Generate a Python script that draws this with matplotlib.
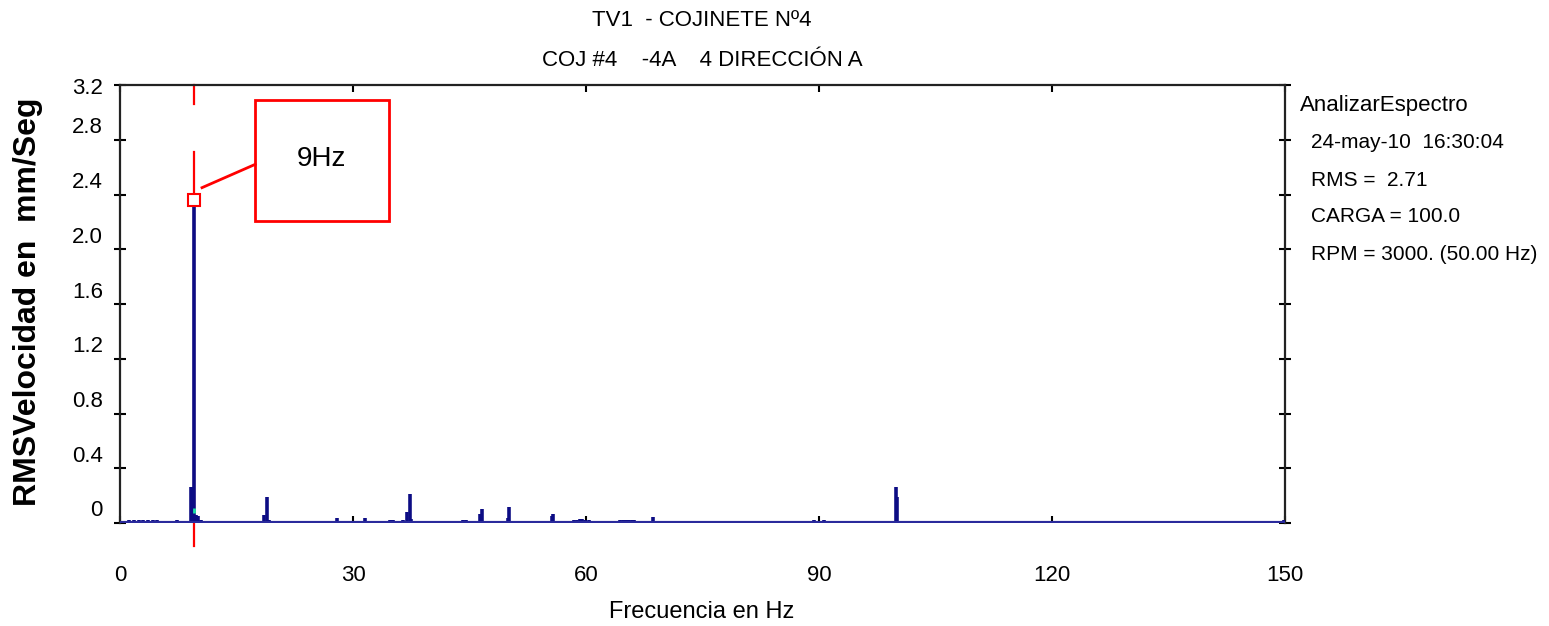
import matplotlib
matplotlib.use('Agg')
from matplotlib import pyplot as plt
from matplotlib.patches import Rectangle
from matplotlib.transforms import blended_transform_factory, ScaledTranslation

SANS = ['Liberation Sans', 'DejaVu Sans']

# spectrum peaks (Hz, mm/s RMS)
freqs = [1.2, 1.5, 1.8, 2.1, 2.4, 2.7, 3.0, 3.3, 3.6, 3.9, 4.2, 4.5, 4.8,
         5.2, 7.3, 9.1, 9.3, 9.5, 9.8, 10.0, 10.4,
         18.6, 18.9, 19.2, 27.9, 31.6, 34.8, 35.0, 35.2, 36.4,
         37.0, 37.3, 37.5, 44.2, 44.5, 46.35, 46.6, 50.0, 50.1,
         55.6, 55.8, 58.5, 58.8, 59.2, 59.5, 59.9, 60.4,
         64.4, 64.7, 65.0, 65.3, 65.6, 65.9, 66.2, 68.6,
         72.3, 72.8, 73.4, 74.2, 74.6, 75.0, 75.4, 75.8,
         89.4, 90.7, 99.9, 100.1, 149.9]
amps = [0.02, 0.015, 0.02, 0.015, 0.02, 0.015, 0.02, 0.015, 0.02, 0.015, 0.02, 0.015, 0.02,
        0.015, 0.02, 0.26, 0.26, 2.36, 0.06, 0.05, 0.02,
        0.06, 0.19, 0.02, 0.035, 0.035, 0.02, 0.02, 0.02, 0.02,
        0.08, 0.21, 0.03, 0.02, 0.02, 0.065, 0.10, 0.04, 0.115,
        0.05, 0.065, 0.02, 0.02, 0.03, 0.03, 0.025, 0.025,
        0.02, 0.02, 0.02, 0.02, 0.02, 0.02, 0.02, 0.045,
        0.015, 0.015, 0.015, 0.015, 0.015, 0.015, 0.015, 0.015,
        0.02, 0.02, 0.26, 0.19, 0.02]

cursor_f = 9.5
cursor_v = 2.36
cursor_label = '9Hz'

xticks = [0, 30, 60, 90, 120, 150]
yticks = [0, 0.4, 0.8, 1.2, 1.6, 2.0, 2.4, 2.8, 3.2]
ytick_labels = ['0', '0.4', '0.8', '1.2', '1.6', '2.0', '2.4', '2.8', '3.2']

title1 = 'TV1  - COJINETE Nº4'
title2 = 'COJ #4    -4A    4 DIRECCIÓN A'
info_head = 'AnalizarEspectro'
info_lines = ['24-may-10  16:30:04', 'RMS =  2.71', 'CARGA = 100.0',
              'RPM = 3000. (50.00 Hz)']

navy = '#0c0c84'
W, H = 1549, 626
fig = plt.figure(figsize=(W / 100, H / 100), dpi=100)
ax = fig.add_axes([120 / W, 1 - 523 / H, (1285 - 120) / W, (523 - 85) / H])

# red cursor line (broken where the original had a gap)
ax.plot([cursor_f, cursor_f], [3.2, 3.06], color='red', lw=1.6, zorder=1, clip_on=False)
ax.plot([cursor_f, cursor_f], [2.71, -0.17], color='red', lw=1.6, zorder=1, clip_on=False)

ax.vlines(freqs, 0, amps, color=navy, lw=2.6, zorder=3)
ax.axhline(0, color='#2a2a9c', lw=3, zorder=4)
ax.vlines([cursor_f], 0.07, 0.11, color='#19e3a6', lw=2, zorder=5)
ax.plot([cursor_f], [cursor_v], marker='s', ms=8, mfc='white', mec='red', mew=1.5, zorder=6)

# callout box
ax.add_patch(Rectangle((17.4, 2.21), 17.2, 0.88, fill=False, ec='red', lw=2, zorder=6))
ax.plot([10.56, 17.4], [2.45, 2.62], color='red', lw=2, zorder=6)
ax.text(26.0, 2.66, cursor_label, ha='center', va='center', fontsize=20, family=SANS)

ax.set_xlim(0, 150)
ax.set_ylim(0, 3.2)
ax.set_xticks(xticks)
ax.set_xticklabels([str(t) for t in xticks], family=SANS, fontsize=16)
ax.set_yticks(yticks)
ax.set_yticklabels([])

for s in ['left', 'right', 'top']:
    ax.spines[s].set_linewidth(1.6)
    ax.spines[s].set_color('#222222')
ax.spines['bottom'].set_visible(False)

ax.tick_params(axis='x', direction='in', length=5, width=1.5, pad=30,
               top=True, bottom=True, color='black')
ax.tick_params(axis='y', direction='inout', length=9, width=1.5,
               left=True, right=True, color='black')

# y tick labels sit a bit above their ticks in the original
for v, lab in zip(yticks, ytick_labels):
    dy = -3 if v == 3.2 else 12
    tr = blended_transform_factory(ax.transAxes, ax.transData) + \
        ScaledTranslation(-17 / 100, dy / 100, fig.dpi_scale_trans)
    ax.text(0, v, lab, transform=tr, ha='right', va='center',
            fontsize=16, family=SANS)

fig.text(702 / W, 1 - 20 / H, title1, ha='center', va='center', fontsize=16, family=SANS)
fig.text(702 / W, 1 - 60 / H, title2, ha='center', va='center', fontsize=16, family=SANS)
fig.text(702 / W, 1 - 612 / H, 'Frecuencia en Hz', ha='center', va='center',
         fontsize=17, family=SANS)
fig.text(28 / W, 1 - 302 / H, 'RMSVelocidad en  mm/Seg', rotation=90, ha='center',
         va='center', fontsize=23, fontweight='bold', family=SANS)

fig.text(1300 / W, 1 - 105 / H, info_head, ha='left', va='center', fontsize=16, family=SANS)
for i, line in enumerate(info_lines):
    fig.text(1311 / W, 1 - (143 + 37 * i) / H, line, ha='left', va='center',
             fontsize=15, family=SANS)

fig.savefig('out.png', dpi=100)
